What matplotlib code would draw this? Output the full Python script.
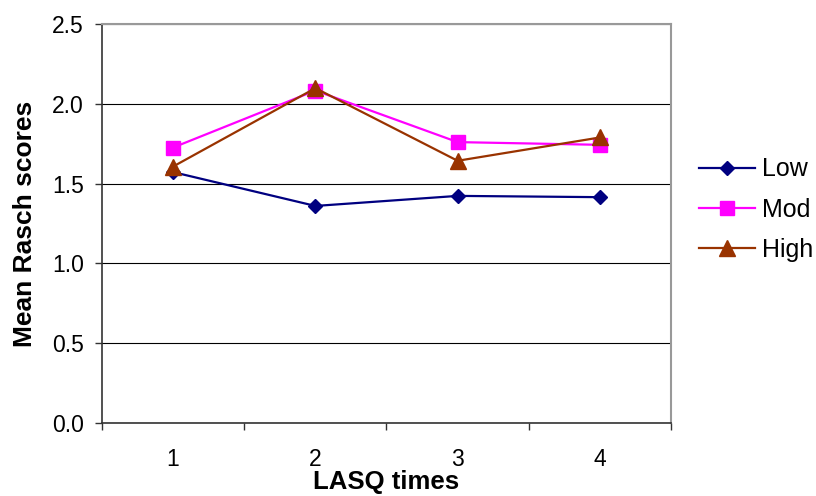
import matplotlib
matplotlib.use("Agg")
import matplotlib.pyplot as plt
from matplotlib.ticker import FixedLocator

plt.rcParams['font.family'] = ['Liberation Sans', 'DejaVu Sans']

times = [1, 2, 3, 4]
tick_labels = ["1", "2", "3", "4"]
y_ticks = [0.0, 0.5, 1.0, 1.5, 2.0, 2.5]
low = [1.572, 1.360, 1.423, 1.415]
mod = [1.726, 2.083, 1.760, 1.743]
high = [1.607, 2.098, 1.643, 1.789]

fig = plt.figure(figsize=(8.16, 4.96), dpi=100)
ax = fig.add_axes([0.125, 0.1472, 0.6973, 0.8044])

ax.plot(times, low, color='#000080', lw=1.6, marker='D', ms=7.5, label='Low', zorder=3)
ax.plot(times, mod, color='#FF00FF', lw=1.6, marker='s', ms=10.5, label='Mod', zorder=3)
ax.plot(times, high, color='#993300', lw=1.6, marker='^', ms=12, label='High', zorder=4)

ax.set_xlim(0.5, 4.5)
ax.set_ylim(0, 2.5)
ax.set_yticks(y_ticks)
ax.set_yticklabels([f"{v:.1f}" for v in y_ticks])
ax.set_xticks(times)
ax.set_xticklabels(tick_labels)
ax.xaxis.set_minor_locator(FixedLocator([0.5, 1.5, 2.5, 3.5, 4.5]))
ax.tick_params(axis='x', which='major', length=0, pad=18, labelsize=16.5)
ax.tick_params(axis='x', which='minor', length=5, width=1, color='#333333')
ax.tick_params(axis='y', length=5, width=1, color='#333333', labelsize=16.5, pad=8)

ax.grid(axis='y', color='black', lw=0.8)
ax.set_axisbelow(True)
for s in ['top', 'right']:
    ax.spines[s].set_color('#999999')
    ax.spines[s].set_linewidth(1.5)
for s in ['left', 'bottom']:
    ax.spines[s].set_color('#333333')
    ax.spines[s].set_linewidth(1.2)

ax.set_xlabel('LASQ times', fontsize=18.5, fontweight='bold', labelpad=-1)
ax.set_ylabel('Mean Rasch scores', fontsize=19, fontweight='bold', labelpad=11)

ax.legend(loc='center left', bbox_to_anchor=(1.010, 0.535), frameon=False,
          fontsize=18, handlelength=2.25, handletextpad=0.25, labelspacing=0.65)

fig.savefig('out.png', dpi=100)
